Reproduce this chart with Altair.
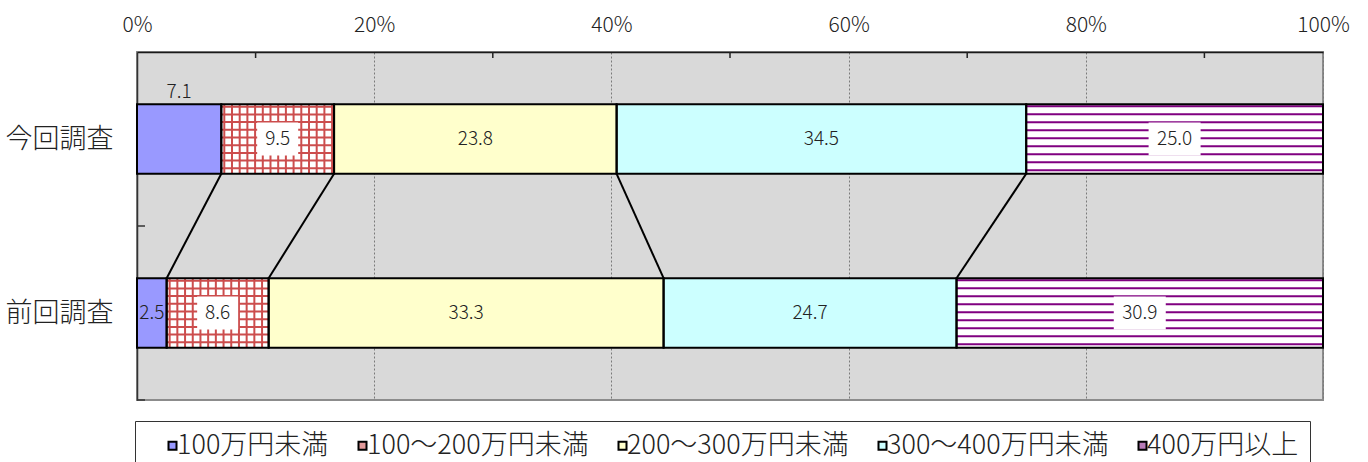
import json

import altair as alt
import pandas as pd

# Household income distribution: current vs previous survey (100% stacked)
surveys = ["今回調査", "前回調査"]
brackets = ["100万円未満", "100〜200万円未満", "200〜300万円未満", "300〜400万円未満", "400万円以上"]
current_pct = [7.1, 9.5, 23.8, 34.5, 25.0]
previous_pct = [2.5, 8.6, 33.3, 24.7, 30.9]
axis_ticks = [0, 20, 40, 60, 80, 100]
minor_ticks = [10, 30, 50, 70, 90]

legend_colors = ["#9999FF", "#E39A9A", "#FFFFCC", "#CCFFFF", "#B77BB7"]
bar_fills = ["#9999FF", "#FFFFFF", "#FFFFCC", "#CCFFFF", "#FFFFFF"]
patterns = [None, "grid", None, None, "hlines"]
label_above = {("今回調査", "100万円未満")}

FONT = "Noto Sans CJK JP"
LIGHT = 300
W, H = 1186, 348
PX_X = W / 100            # pixels per percentage point
PX_Y = H / len(surveys)   # pixels per survey row
BAR = 0.4                 # bar thickness as a fraction of a row

# one record per stacked segment, normalised to 100%
rows = []
for r, (survey, vals) in enumerate(zip(surveys, [current_pct, previous_pct])):
    total = sum(vals)
    cum = 0.0
    for i, (b, v) in enumerate(zip(brackets, vals)):
        s = cum / total * 100
        cum += v
        e = cum / total * 100
        top = r + (1 - BAR) / 2
        bottom = r + (1 + BAR) / 2
        above = (survey, b) in label_above
        rows.append(dict(
            survey=survey, bracket=b, order=i, value=v, label=f"{v:.1f}",
            start=s, end=e, mid=(s + e) / 2, top=top, bottom=bottom,
            ty=(top - 12 / PX_Y) if above else r + 0.5,
            fill=bar_fills[i], pattern=patterns[i] or "",
        ))
seg = pd.DataFrame(rows)

# hatching strokes for the patterned segments
lines = []
for _, s in seg[seg.pattern != ""].iterrows():
    height_px = (s.bottom - s.top) * PX_Y
    width_px = (s.end - s.start) * PX_X
    if s.pattern == "hlines":
        ink, step, first = "#800080", 8.0, 2.0
    else:
        ink, step, first = "#CC4D4D", 7.7, 2.5
    off = first
    while off < height_px - 1:
        y = s.top + off / PX_Y
        lines.append(dict(x=s.start, x2=s.end, y=y, y2=y, ink=ink))
        off += step
    if s.pattern == "grid":
        off = 3.0
        while off < width_px - 1:
            x = s.start + off / PX_X
            lines.append(dict(x=x, x2=x, y=s.top, y2=s.bottom, ink=ink))
            off += step
lines = pd.DataFrame(lines)

# white plates behind the labels sitting on hatched segments
plates = seg[seg.pattern != ""].copy()
half_w = (4 + 5.5 * plates.label.str.len()) / PX_X
plates["x"] = plates.mid - half_w
plates["x2"] = plates.mid + half_w
plates["y"] = plates.ty - 16.5 / PX_Y
plates["y2"] = plates.ty + 16.5 / PX_Y

# connector lines between matching segment boundaries of the two bars
cur = seg[seg.survey == surveys[0]]
prev = seg[seg.survey == surveys[1]]
conn = pd.DataFrame({
    "x": cur.end.values[:-1],
    "x2": prev.end.values[:-1],
    "y": cur.bottom.values[:-1],
    "y2": prev.top.values[:-1],
})

top_ticks = pd.DataFrame({"v": minor_ticks, "y": 0.0, "y2": 6 / PX_Y})
left_ticks = pd.DataFrame({"v": [float(i) for i in range(1, len(surveys) + 1)],
                           "x": 0.0, "x2": 8 / PX_X})

xs = alt.Scale(domain=[0, 100], nice=False, zero=False)
ys = alt.Scale(domain=[0, len(surveys)], reverse=True, nice=False, zero=False)
xaxis = alt.Axis(
    orient="top", values=axis_ticks, labelExpr="datum.value + '%'",
    grid=True, gridDash=[2, 2], gridColor="#7a7a7a", gridWidth=1,
    ticks=False, domainColor="#1a1a1a", domainWidth=1.5,
    labelPadding=17, labelFontSize=21, labelFont=FONT, labelFontWeight=LIGHT,
    labelColor="#222222", labelFlush=False, title=None,
)
yaxis = alt.Axis(
    values=[i + 0.5 for i in range(len(surveys))],
    labelExpr=f"{json.dumps(surveys, ensure_ascii=False)}[floor(datum.value)]",
    ticks=False, grid=False, domainColor="#333333", domainWidth=1.5,
    labelPadding=24, labelFontSize=27, labelFont=FONT, labelFontWeight=LIGHT,
    labelColor="#222222", title=None,
)


def X(f):
    return alt.X(f"{f}:Q", scale=xs, axis=xaxis)


def Y(f):
    return alt.Y(f"{f}:Q", scale=ys, axis=yaxis)


legend = alt.Legend(
    orient="none", legendX=-2, legendY=369, direction="horizontal", columns=5,
    title=" ", titleOrient="left", titleFontSize=1, titlePadding=13,
    strokeColor="#333333", fillColor="white", padding=11,
    symbolType="square", symbolSize=64, symbolStrokeColor="black",
    symbolStrokeWidth=2, labelFont=FONT, labelFontSize=27,
    labelFontWeight=LIGHT, labelColor="#222222", labelOffset={"expr": "-9"},
    columnPadding=20, labelLimit=400,
)

base = alt.Chart(seg).mark_rect(strokeWidth=0).encode(
    x=X("start"), x2="end", y=Y("top"), y2="bottom",
    color=alt.Color("bracket:N", sort=brackets,
                    scale=alt.Scale(domain=brackets, range=legend_colors),
                    legend=legend),
)

fills = alt.Chart(seg).mark_rect(strokeWidth=0).encode(
    x=X("start"), x2="end", y=Y("top"), y2="bottom",
    fill=alt.Fill("fill:N", scale=None),
)

hatch = alt.Chart(lines).mark_rule(strokeWidth=2).encode(
    x=X("x"), x2="x2", y=Y("y"), y2="y2",
    color=alt.Color("ink:N", scale=None),
)

plate = alt.Chart(plates).mark_rect(fill="white", strokeWidth=0).encode(
    x=X("x"), x2="x2", y=Y("y"), y2="y2",
)

outline = alt.Chart(seg).mark_rect(fillOpacity=0, stroke="black", strokeWidth=2).encode(
    x=X("start"), x2="end", y=Y("top"), y2="bottom",
)

connectors = alt.Chart(conn).mark_rule(color="black", strokeWidth=2).encode(
    x=X("x"), x2="x2", y=Y("y"), y2="y2",
)

labels = alt.Chart(seg).mark_text(
    font=FONT, fontSize=19, fontWeight=LIGHT, color="#222222",
    baseline="middle", align="center",
).encode(x=X("mid"), y=Y("ty"), text="label:N")

tick_top = alt.Chart(top_ticks).mark_rule(color="#222222", strokeWidth=1.5).encode(
    x=X("v"), y=Y("y"), y2="y2",
)
tick_left = alt.Chart(left_ticks).mark_rule(color="#333333", strokeWidth=1.5).encode(
    x=X("x"), x2="x2", y=Y("v"),
)

chart = alt.layer(
    base, fills, hatch, plate, outline, connectors, labels, tick_top, tick_left
).properties(
    width=W, height=H,
    padding={"left": 137, "top": 52, "right": 45, "bottom": 62},
    autosize=alt.AutoSizeParams(type="none"),
    background="white",
).configure_view(fill="#D9D9D9", stroke="#8c8c8c", strokeWidth=2)

chart.save("out.html", embed_options={"renderer": "svg", "actions": False})
